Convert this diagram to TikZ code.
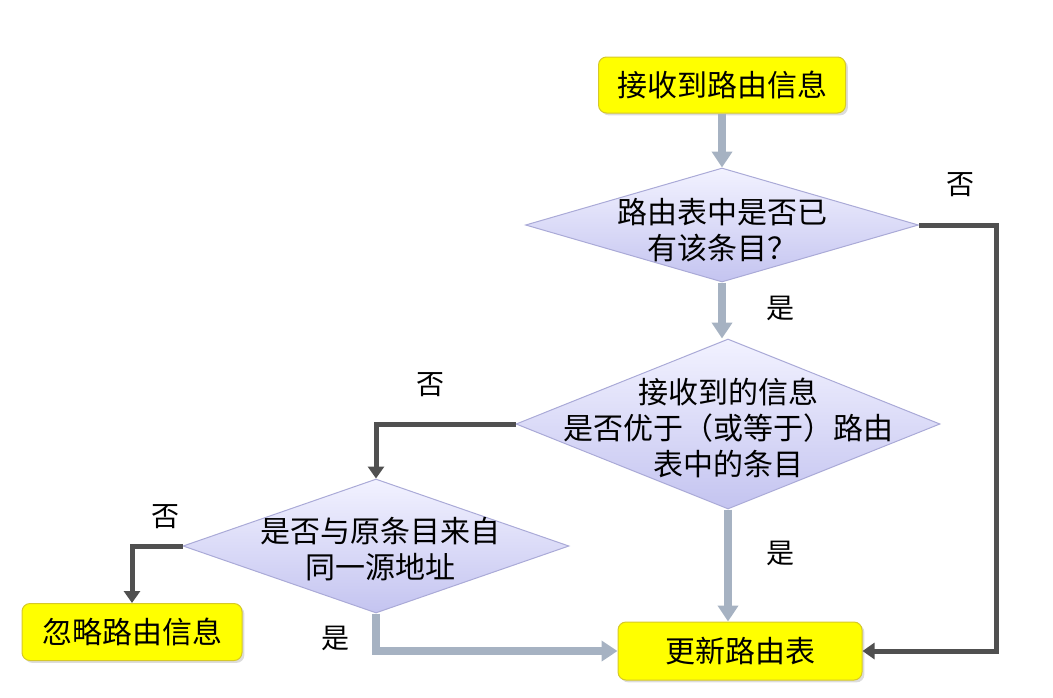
\documentclass[tikz,border=0pt]{standalone}
\usepackage{fontspec}
\setmainfont{Noto Sans CJK SC}
\usetikzlibrary{arrows.meta,shapes.geometric,shadows}
\definecolor{boxyellow}{RGB}{255,255,0}
\definecolor{boxedge}{RGB}{214,200,40}
\definecolor{askedge}{RGB}{170,170,215}
\definecolor{asktop}{RGB}{242,242,255}
\definecolor{askbottom}{RGB}{196,196,240}
\definecolor{flowgray}{RGB}{166,178,194}
\definecolor{backgray}{RGB}{80,80,80}
\tikzset{
  stepbox/.style={draw=boxedge,line width=0.5pt,fill=boxyellow,rounded corners=4pt,
    drop shadow={shadow xshift=1.2pt,shadow yshift=-1.2pt,fill=gray!55},
    font=\fontsize{15}{18}\selectfont,inner sep=0pt},
  decide/.style={diamond,draw=askedge,line width=0.5pt,top color=asktop,bottom color=askbottom,inner sep=0pt},
  ask/.style={align=center,font=\fontsize{15}{18}\selectfont,inner sep=0pt},
  tag/.style={font=\fontsize{14}{16}\selectfont,inner sep=0pt},
  flow/.style={draw=flowgray,line width=4pt,-{Triangle[width=10pt,length=8pt]}},
  back/.style={draw=backgray,line width=2.5pt,-{Triangle[width=8pt,length=6pt]}}
}
\begin{document}
\begin{tikzpicture}[x=0.5pt,y=-0.5pt]
        \useasboundingbox (0,0) rectangle (1053,697);
        \node[stepbox,minimum width=123.5pt,minimum height=28pt] (recv) at (722,85) {接收到路由信息};
        \node[decide,minimum width=196.5pt,minimum height=57pt] (q1) at (722,225) {};
        \node[ask] (q1t) at (722,230) {路由表中是否已\\有该条目？};
        \node[decide,minimum width=212pt,minimum height=85pt] (q2) at (728,424) {};
        \node[ask] (q2t) at (728,428) {接收到的信息\\是否优于（或等于）路由\\表中的条目};
        \node[decide,minimum width=193pt,minimum height=67pt] (q3) at (376,546) {};
        \node[ask] (q3t) at (380,549) {是否与原条目来自\\同一源地址};
        \node[stepbox,minimum width=110pt,minimum height=28.5pt] (ignore) at (132,632) {忽略路由信息};
        \node[stepbox,minimum width=122pt,minimum height=29pt] (update) at (740,651) {更新路由表};
        \draw[flow] (recv) -- (q1);
        \draw[flow] (q1.south) -- (q1.south |- q2.north);
        \draw[flow] (q2.south) -- (q2.south |- update.north);
        \draw[flow] (q3.south) |- (update.west);
        \draw[back] (q1.east) -- ++(77,0) |- (update.east);
        \draw[back] (q2.west) -| (q3.north);
        \draw[back] (q3.west) -| (ignore.north);
        \node[tag] (n1) at (960,185) {否};
        \node[tag] (y1) at (780,308) {是};
        \node[tag] (n2) at (430,385) {否};
        \node[tag] (y2) at (780,553) {是};
        \node[tag] (n3) at (165,517) {否};
        \node[tag] (y3) at (335,638) {是};
    \end{tikzpicture}
\end{document}
